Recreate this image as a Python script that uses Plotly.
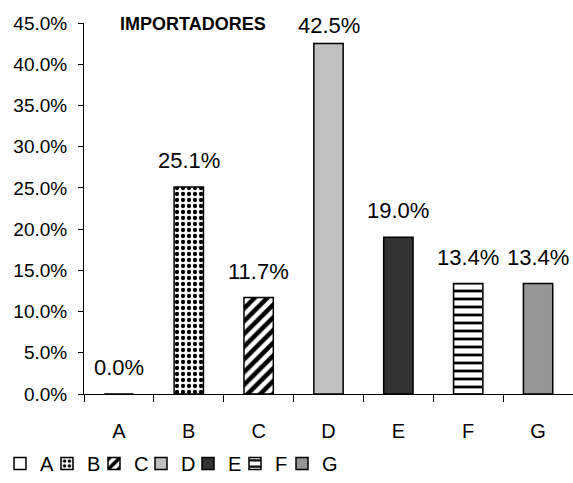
import plotly.graph_objects as go

categories = ["A", "B", "C", "D", "E", "F", "G"]
values = [0.0, 25.1, 11.7, 42.5, 19.0, 13.4, 13.4]
fill_colors = ["#FFFFFF", "#FFFFFF", "#FFFFFF", "#C0C0C0", "#333333", "#FFFFFF", "#969696"]
patterns = ["", ".", "/", "", "", "-", ""]
y_ticks = [0, 5, 10, 15, 20, 25, 30, 35, 40, 45]
title_text = "IMPORTADORES"

FONT = "Liberation Sans, Arial, sans-serif"
pattern_style = {
    ".": dict(size=6, solidity=0.4),
    "/": dict(size=9, solidity=0.5),
    "-": dict(size=8, solidity=0.35),
}

fig = go.Figure()
for cat, val, col, pat in zip(categories, values, fill_colors, patterns):
    marker = dict(color=col, line=dict(color="black", width=1.5))
    if pat:
        marker["pattern"] = dict(shape=pat, fgcolor="black", bgcolor="#FFFFFF",
                                 fgopacity=1, fillmode="overlay", **pattern_style[pat])
    fig.add_trace(go.Bar(x=[cat], y=[val], name=cat, marker=marker, width=0.42,
                         hoverinfo="skip"))

# invisible spacer entry so the last legend label is not clipped
fig.add_trace(go.Bar(x=[categories[0]], y=[0], name=" ", width=0.42, hoverinfo="skip",
                     marker=dict(color="rgba(0,0,0,0)", line=dict(width=0))))

# data labels
for cat, val in zip(categories, values):
    fig.add_annotation(x=cat, y=min(val + 3.2, 44.7), text=f"{val:.1f}%",
                       showarrow=False, yanchor="middle", xanchor="center",
                       font=dict(family=FONT, size=22, color="black"))

fig.add_annotation(xref="paper", yref="paper", x=0.07, y=0.996, text=f"<b>{title_text}</b>",
                   showarrow=False, xanchor="left", yanchor="middle",
                   font=dict(family=FONT, size=18, color="black"))

fig.update_layout(
    width=573, height=483,
    margin=dict(l=84, r=0, t=23, b=89, autoexpand=False),
    paper_bgcolor="white", plot_bgcolor="white",
    barmode="overlay",
    font=dict(family=FONT, size=19, color="black"),
    showlegend=True,
    legend=dict(orientation="h", xref="container", yref="container",
                x=0.0, y=0.0, xanchor="left", yanchor="bottom",
                font=dict(family=FONT, size=20), itemwidth=30,
                entrywidth=2, entrywidthmode="pixels",
                traceorder="normal"),
)
fig.update_xaxes(
    categoryorder="array", categoryarray=categories, range=[-0.5, 6.5],
    showline=True, linecolor="black", linewidth=1,
    ticks="outside", tickson="boundaries", ticklen=7, tickcolor="black",
    showgrid=False, ticklabelstandoff=19, tickfont=dict(size=20), automargin=False,
)
fig.update_yaxes(
    range=[0, 45], tickvals=y_ticks, ticktext=[f"{t:.1f}%" for t in y_ticks],
    showline=True, linecolor="black", linewidth=1,
    ticks="outside", ticklen=5, tickcolor="black",
    showgrid=False, zeroline=False, ticklabelstandoff=7, automargin=False,
)

fig.write_html("out.html", config={"displayModeBar": False},
               post_script="document.body.style.margin='0px';document.body.style.overflow='hidden';")
